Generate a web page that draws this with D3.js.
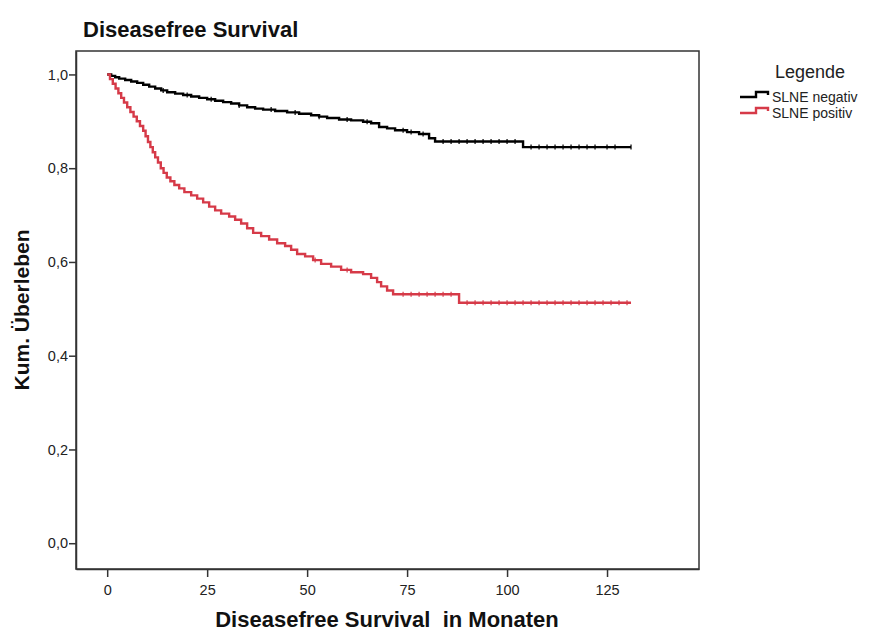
<!DOCTYPE html>
<html><head><meta charset="utf-8">
<script src="https://cdn.jsdelivr.net/npm/d3@7"></script>
<style>body{margin:0;background:#fff;}svg{display:block;}</style>
</head><body>
<script>
// ---- data ----
const seriesNames = ["SLNE negativ", "SLNE positiv"];
const seriesColors = ["#000000", "#d63a48"];
const xTicks = [0, 25, 50, 75, 100, 125];
const yTicks = [0, 0.2, 0.4, 0.6, 0.8, 1.0];
const title = "Diseasefree Survival";
const xLabel = "Diseasefree Survival  in Monaten";
const yLabel = "Kum. Überleben";
const legendTitle = "Legende";

// step points [time, survival] where the curve drops; last entry = end of follow-up
const negTimes = [0,1,2,3,4.5,6,7.5,9,10.5,12,13.5,15,17,19,21,23,25,27,29,31,33,35,37,39,42,45,48,51,53,55,58,61,64,66,68,70,72,75,78,80.5,82,104,131];
const negSurv  = [1.000,0.997,0.994,0.991,0.988,0.985,0.982,0.978,0.974,0.970,0.966,0.962,0.959,0.956,0.953,0.950,0.947,0.944,0.941,0.938,0.934,0.930,0.927,0.925,0.922,0.919,0.916,0.913,0.910,0.907,0.904,0.902,0.899,0.896,0.888,0.885,0.881,0.877,0.873,0.864,0.857,0.845,0.845];
const posTimes = [0,0.7,1.4,2.1,2.8,3.5,4.2,5,5.8,6.6,7.4,8.2,9,9.6,10.2,10.8,11.4,12,12.7,13.4,14.1,14.9,15.8,16.8,18,19.3,21,22.5,24,25.5,27,28.5,30.5,32,33.5,35,36.5,38.5,40.5,42.5,44.5,46,47.5,49.5,51.5,53.5,56,58.5,61,64,66,67.5,68.5,70,71.5,88,131];
const posSurv  = [1.000,0.990,0.980,0.970,0.960,0.950,0.940,0.930,0.920,0.910,0.900,0.890,0.880,0.868,0.856,0.845,0.834,0.823,0.812,0.800,0.790,0.780,0.772,0.764,0.757,0.749,0.742,0.735,0.727,0.718,0.710,0.703,0.697,0.690,0.682,0.672,0.662,0.655,0.648,0.640,0.634,0.626,0.617,0.612,0.604,0.596,0.590,0.583,0.578,0.574,0.566,0.557,0.548,0.539,0.531,0.513,0.513];
// censoring times
const negCensor = [14,20,26,33,41,47,53,60,65,74,76,79,84,86,88,90,92,94,96,98,100,102,106,108,110,112,114,116,118,120,122,125,127,131];
const posCensor = [52,60,74,76,78,80,82,84,86,90,92,94,96,98,100,102,104,106,108,110,112,114,116,118,120,122,124,126,128,130];

// ---- layout ----
const W = 870, H = 633;
const L = 76, R = 699, T = 51, B = 569;
const font = "'Liberation Sans', Arial, sans-serif";

const svg = d3.select("body").append("svg").attr("width", W).attr("height", H)
  .style("font-family", font);

const x = d3.scaleLinear().domain([-7.8, 148]).range([L, R]);
const y = d3.scaleLinear().domain([-0.055, 1.05]).range([B, T]);

// frame
svg.append("rect").attr("x", L).attr("y", T).attr("width", R - L).attr("height", B - T)
  .attr("fill", "none").attr("stroke", "#333").attr("stroke-width", 1.5);

const fmt = d => d3.format(".1f")(d).replace(".", ",");

const ya = svg.append("g").attr("transform", `translate(${L},0)`)
  .call(d3.axisLeft(y).tickValues(yTicks).tickFormat(fmt).tickSize(7).tickSizeOuter(0).tickPadding(1));
const xa = svg.append("g").attr("transform", `translate(0,${B})`)
  .call(d3.axisBottom(x).tickValues(xTicks).tickSize(8).tickSizeOuter(0).tickPadding(8));
[ya, xa].forEach(a => {
  a.select(".domain").attr("stroke", "#333").attr("stroke-width", 1.5);
  a.selectAll(".tick line").attr("stroke", "#333").attr("stroke-width", 1.5);
  a.selectAll(".tick text").attr("fill", "#222").style("font-size", "14.5px").style("font-family", font);
});

// curves
const series = [
  {t: negTimes, s: negSurv, c: negCensor},
  {t: posTimes, s: posSurv, c: posCensor}
];
const line = d3.line().x(d => x(d[0])).y(d => y(d[1])).curve(d3.curveStepAfter);
function survAt(sr, t) {
  let v = sr.s[0];
  for (let i = 0; i < sr.t.length; i++) { if (sr.t[i] <= t) v = sr.s[i]; }
  return v;
}
series.forEach((sr, i) => {
  const pts = sr.t.map((t, k) => [t, sr.s[k]]);
  svg.append("path").datum(pts).attr("d", line).attr("fill", "none")
    .attr("stroke", seriesColors[i]).attr("stroke-width", 2.4);
  svg.append("g").selectAll("line").data(sr.c).join("line")
    .attr("x1", d => x(d)).attr("x2", d => x(d))
    .attr("y1", d => y(survAt(sr, d)) - 2.5).attr("y2", d => y(survAt(sr, d)) + 2.5)
    .attr("stroke", seriesColors[i]).attr("stroke-width", 1.2);
});

// title and axis labels
svg.append("text").attr("x", 83).attr("y", 37).text(title)
  .style("font-size", "22px").style("font-weight", "bold").attr("fill", "#111");
svg.append("text").attr("x", 387).attr("y", 627).attr("text-anchor", "middle").text(xLabel)
  .style("white-space", "pre")
  .style("font-size", "22px").style("font-weight", "bold").attr("fill", "#111");
svg.append("text").attr("transform", `translate(29,310) rotate(-90)`)
  .attr("text-anchor", "middle").text(yLabel)
  .style("font-size", "21px").style("font-weight", "bold").attr("fill", "#111");

// legend
svg.append("text").attr("x", 810).attr("y", 78).attr("text-anchor", "middle").text(legendTitle)
  .style("font-size", "18px").attr("fill", "#222");
seriesNames.forEach((n, i) => {
  const yy = 99 + i * 16;
  const g = svg.append("g");
  g.append("path").attr("d", `M740,${yy - 2}H756V${yy - 7}H768V${yy - 4}`)
    .attr("fill", "none").attr("stroke", seriesColors[i]).attr("stroke-width", 2.4);
  g.append("text").attr("x", 772).attr("y", yy + 3).text(n)
    .style("font-size", "14px").attr("fill", "#222");
});
</script>
</body></html>
